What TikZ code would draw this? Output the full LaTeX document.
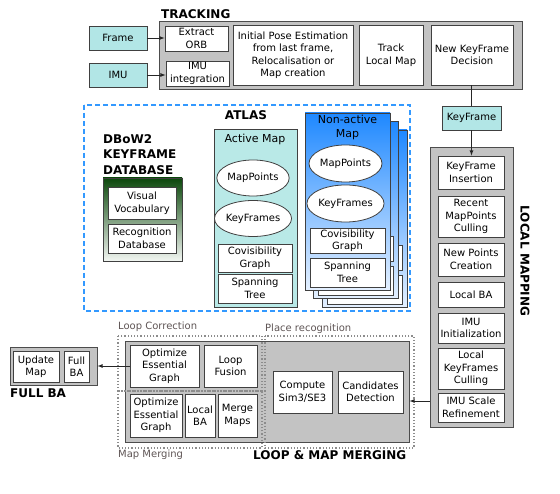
\documentclass[tikz,border=0pt]{standalone}
\usepackage{fontspec}
\setmainfont{DejaVu Sans}
\usetikzlibrary{shapes.geometric}
\definecolor{boxcyan}{RGB}{178,230,230}
\definecolor{mapcyan}{RGB}{185,233,231}
\definecolor{threadgray}{RGB}{195,195,195}
\definecolor{atlasblue}{RGB}{51,153,255}
\definecolor{nablue}{RGB}{30,136,255}
\definecolor{nalight}{RGB}{228,240,255}
\definecolor{dbgreen}{RGB}{12,72,12}
\definecolor{dblight}{RGB}{242,246,242}
\definecolor{subtext}{RGB}{95,85,85}
\begin{document}
\begin{tikzpicture}[x=1pt,y=-1pt,>=latex,
    font=\fontsize{10}{12.5}\selectfont,
    sz/.style 2 args={minimum width=#1pt,minimum height=#2pt},
    thread/.style={draw=black!70,fill=threadgray,line width=0.9pt,inner sep=0pt},
    wbox/.style={draw=black!75,fill=white,line width=0.8pt,align=center,inner sep=1pt},
    inbox/.style={draw=black!75,fill=boxcyan,line width=0.8pt,align=center,inner sep=1pt},
    ell/.style={ellipse,draw=black!75,fill=white,line width=0.8pt,inner sep=0pt},
    title/.style={font=\fontsize{12}{15.5}\selectfont\bfseries,inner sep=0pt},
    maptitle/.style={font=\fontsize{11}{14}\selectfont,align=center,inner sep=0pt},
    subtitle/.style={text=subtext,inner sep=0pt,anchor=west},
    zone/.style={draw=black!45,dotted,line width=1.2pt},
    nonact/.style={draw=black!75,line width=0.8pt,top color=nablue,bottom color=nalight},
    conn/.style={draw=black!85,line width=0.8pt}]
    \useasboundingbox (0,0) rectangle (560,494);
    \fill[white] (0,0) rectangle (560,494);

    %% tracking
    \node[title,anchor=base west] (trtitle) at (161,19) {TRACKING};
    \node[thread,sz={363}{68}] (tracking) at (340.5,55) {};
    \node[inbox,sz={58}{24}] (frame) at (118,38) {Frame};
    \node[inbox,sz={58}{24}] (imu) at (118,75) {IMU};
    \node[wbox,sz={63}{25}] (orb) at (196.5,38.5) {Extract\\ORB};
    \node[wbox,sz={63}{25}] (imuint) at (197.5,73.5) {IMU\\integration};
    \node[wbox,sz={120}{60}] (pose) at (293,55) {Initial Pose Estimation\\from last frame,\\Relocalisation or\\Map creation};
    \node[wbox,sz={64}{60}] (track) at (391,55) {Track\\Local Map};
    \node[wbox,sz={82}{60}] (decision) at (472,55) {New KeyFrame\\Decision};
    \draw[conn,->] (frame.east) -- (frame.east -| orb.west);
    \draw[conn,->] (imu.east) -- (imu.east -| imuint.west);

    %% keyframe
    \node[inbox,sz={59}{24}] (keyframe) at (471.5,118) {KeyFrame};
    \draw[conn] (keyframe.north |- decision.south) -- (keyframe.north);

    %% local mapping
    \node[thread,sz={83}{280}] (lmap) at (471.5,287) {};
    \node[title,rotate=-90] (lmtitle) at (525,261) {LOCAL MAPPING};
    \node[wbox,sz={66}{33}] (insertion) at (471,172.5) {KeyFrame\\Insertion};
    \node[wbox,sz={66}{41}] (mpculling) at (471,216.5) {Recent\\MapPoints\\Culling};
    \node[wbox,sz={66}{33}] (newpoints) at (471,259.5) {New Points\\Creation};
    \node[wbox,sz={66}{25}] (localba) at (471,294.5) {Local BA};
    \node[wbox,sz={66}{30}] (imuinit) at (471,328) {IMU\\Initialization};
    \node[wbox,sz={66}{41}] (kfculling) at (471,368.5) {Local\\KeyFrames\\Culling};
    \node[wbox,sz={66}{29}] (refine) at (471,407.5) {IMU Scale\\Refinement};
    \draw[conn,->] (keyframe.south) -- (keyframe.south |- insertion.north);

    %% atlas
    \draw[atlasblue,line width=1.5pt,dash pattern=on 5pt off 3pt] (84,105) rectangle (410,311);
    \node[title] (atlastitle) at (246,115) {ATLAS};
    \node[title,anchor=north west,align=left] (dbtitle) at (103,134) {DBoW2\\KEYFRAME\\DATABASE};
    \node[draw=black!75,line width=0.8pt,top color=dbgreen,bottom color=dblight,sz={79}{83}] (dbow) at (142.5,219.5) {};
    \node[wbox,sz={68}{32}] (vocab) at (142,203) {Visual\\Vocabulary};
    \node[wbox,sz={68}{29}] (recog) at (142,238.5) {Recognition\\Database};

    %% active map
    \node[draw=black!75,line width=0.8pt,fill=mapcyan,sz={83}{178}] (active) at (255.5,218) {};
    \node[maptitle] (activetitle) at (255,139) {Active Map};
    \node[ell,sz={70}{36}] (amp) at (253,178) {MapPoints};
    \node[ell,sz={70}{36}] (akf) at (253,218.5) {KeyFrames};
    \node[wbox,sz={74}{28}] (acov) at (255,258) {Covisibility\\Graph};
    \node[wbox,sz={74}{29}] (aspan) at (255,288.5) {Spanning\\Tree};

    %% non-active maps (stack behind, then front)
    \foreach \d in {17,8.5} {
        \begin{scope}[shift={(\d,\d)}]
            \node[nonact,sz={85}{177}] at (347.5,201.5) {};
            \node[wbox,sz={75}{25}] at (347.5,240.5) {};
            \node[wbox,sz={75}{29}] at (347.5,272.5) {};
        \end{scope}
    }
    \node[nonact,sz={85}{177}] (nonactive) at (347.5,201.5) {};
    \node[maptitle] (natitle) at (347.5,127) {Non-active\\Map};
    \node[ell,sz={73}{37}] (nmp) at (345.5,163.5) {MapPoints};
    \node[ell,sz={73}{37}] (nkf) at (345.5,203.5) {KeyFrames};
    \node[wbox,sz={75}{25}] (ncov) at (347.5,240.5) {Covisibility\\Graph};
    \node[wbox,sz={75}{29}] (nspan) at (347.5,272.5) {Spanning\\Tree};

    %% full BA
    \node[thread,sz={87}{38}] (fullba) at (53.5,366) {};
    \node[wbox,sz={46}{31}] (update) at (36,366.5) {Update\\Map};
    \node[wbox,sz={25}{31}] (fullbain) at (76.5,366.5) {Full\\BA};
    \node[title,anchor=west] (fbtitle) at (10,393) {FULL BA};

    %% loop and map merging
    \node[thread,sz={284}{101}] (lmm) at (267,391.5) {};
    \draw[zone] (118,336) rectangle (262,391);
    \draw[zone] (118,391) rectangle (262,448);
    \draw[zone] (265,336) rectangle (414,448);
    \node[subtitle] (lctitle) at (118,327) {Loop Correction};
    \node[subtitle] (mmtitle) at (118,455) {Map Merging};
    \node[subtitle] (prtitle) at (265,329) {Place recognition};
    \node[title,anchor=west] (lmmtitle) at (253,455) {LOOP \& MAP MERGING};
    \node[wbox,sz={69}{42}] (opt1) at (164.5,366) {Optimize\\Essential\\Graph};
    \node[wbox,sz={53}{42}] (fusion) at (230.5,366) {Loop\\Fusion};
    \node[wbox,sz={52}{43}] (opt2) at (156,415.5) {Optimize\\Essential\\Graph};
    \node[wbox,sz={30}{43}] (mlba) at (200,415.5) {Local\\BA};
    \node[wbox,sz={39}{43}] (merge) at (237.5,415.5) {Merge\\Maps};
    \node[wbox,sz={59}{42}] (sim3) at (302.5,392) {Compute\\Sim3/SE3};
    \node[wbox,sz={65}{42}] (cand) at (370.5,392) {Candidates\\Detection};

    \coordinate (lmout) at (lmap.west |- 0,401);
    \draw[conn,->] (lmout) -- (lmout -| lmm.east);
    \draw[conn,->] (opt1.west) -- (fullba.east);
\end{tikzpicture}
\end{document}
